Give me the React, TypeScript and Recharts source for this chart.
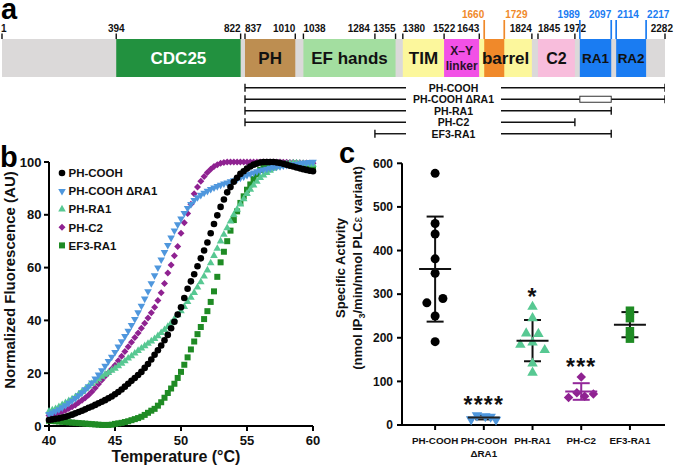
import React from "react";
import {
  Bar,
  ComposedChart,
  ErrorBar,
  ReferenceArea,
  Scatter,
  ScatterChart,
  XAxis,
  YAxis,
} from "recharts";

const FONT = '"Liberation Sans", Arial, Helvetica, sans-serif';
const INK = "#111";
const ORANGE = "#f0892a";
const BLUE = "#1a7cf2";

// ---------- panel a: PLCe domain map ----------
const DOMAIN_NAMES = ["CDC25", "PH", "EF hands", "TIM", "X–Y\nlinker", "barrel", "", "C2", "RA1", "RA2"];
const DOMAIN_START = [394, 837, 1038, 1380, 1522, 1643, 1660, 1845, 1989, 2114];
const DOMAIN_END = [822, 1010, 1355, 1522, 1643, 1824, 1729, 1972, 2097, 2217];
const DOMAIN_FILL = ["#22913f", "#bd8e51", "#a3dea0", "#fcf79c", "#f251e6", "#fcf79c", ORANGE, "#f8bddc", BLUE, BLUE];
const DOMAIN_TEXT = ["#fff", INK, INK, INK, "#2a102a", INK, INK, INK, INK, INK];
const DOMAIN_FONT = [17, 17, 17, 17, 12, 17, 17, 16, 13.5, 13.5];

const TICK_BLACK = [1, 394, 822, 837, 1010, 1038, 1284, 1355, 1380, 1522, 1643, 1824, 1845, 1972, 2282];
const TICK_ORANGE = [1660, 1729];
const TICK_BLUE = [1989, 2097, 2114, 2217];
const TICK_ANCHOR: Record<number, [string, number]> = {
  1: ["start", -1], 394: ["middle", 0], 822: ["end", 0], 837: ["start", 0], 1010: ["end", 0],
  1038: ["start", 0], 1284: ["end", -5], 1355: ["end", 0], 1380: ["start", 0], 1522: ["middle", 0],
  1643: ["end", 0], 1824: ["end", 0], 1845: ["start", 0], 1972: ["middle", 0], 2282: ["end", 8],
  1660: ["end", 0], 1729: ["start", 1], 1989: ["end", 0], 2097: ["end", 0], 2114: ["start", 1], 2217: ["start", 1],
};

const CONSTRUCT_NAMES = ["PH-COOH", "PH-COOH ΔRA1", "PH-RA1", "PH-C2", "EF3-RA1"];
const CONSTRUCT_START = [837, 837, 837, 837, 1284];
const CONSTRUCT_END = [2282, 2282, 2097, 1972, 2097];
const CONSTRUCT_DELETION: (number[] | null)[] = [null, [1989, 2097], null, null, null];

// ---------- panel b: thermal melts (40-60 °C, 0.25 °C steps) ----------
const TEMP_START = 40;
const TEMP_STEP = 0.25;
const PH_COOH_MELT = [
  2.3, 2.5, 2.7, 2.9, 3.2, 3.5, 3.9, 4.3, 4.8, 5.3, 5.8, 6.3, 6.9, 7.4, 8.0, 8.6,
  9.2, 9.8, 10.5, 11.2, 12.0, 12.9, 13.8, 14.9, 16.0, 17.1, 18.2, 19.3, 20.5, 22.0, 23.5, 25.2,
  27.0, 28.7, 30.5, 32.5, 34.5, 37.0, 39.5, 42.2, 45.0, 48.5, 52.0, 54.8, 57.5, 60.5, 63.5, 66.5,
  69.5, 73.0, 76.5, 79.8, 83.0, 85.8, 88.5, 90.5, 92.5, 94.0, 95.5, 96.5, 97.5, 98.3, 99.0, 99.4,
  99.8, 100, 100, 100, 100, 99.8, 99.6, 99.3, 99.0, 98.6, 98.3, 97.9, 97.6, 97.3, 97.0, 96.7, 96.5,
];
const DRA1_MELT = [
  4.5, 5.0, 5.6, 6.3, 7.0, 7.8, 8.7, 9.6, 10.5, 11.6, 12.7, 13.8, 15.0, 16.4, 17.9, 19.4,
  21.0, 22.7, 24.5, 26.2, 28.0, 30.0, 32.0, 34.0, 36.0, 38.2, 40.5, 43.0, 45.5, 48.2, 51.0, 54.0,
  57.0, 60.0, 63.0, 65.8, 68.5, 71.3, 74.0, 76.3, 78.5, 80.6, 82.5, 84.0, 85.5, 86.6, 87.5, 88.3,
  89.0, 89.7, 90.3, 90.8, 91.3, 91.8, 92.2, 92.6, 93.0, 93.5, 94.0, 94.5, 95.0, 95.5, 95.9, 96.4,
  96.8, 97.1, 97.4, 97.7, 98.0, 98.2, 98.4, 98.6, 98.8, 98.9, 99.1, 99.2, 99.4, 99.6, 99.7, 99.9, 100,
];
const PH_RA1_MELT = [
  5.5, 6.0, 6.5, 7.2, 8.0, 8.7, 9.5, 10.2, 11.0, 12.0, 13.0, 14.0, 15.0, 16.0, 16.9, 17.8,
  18.7, 19.5, 20.2, 21.0, 21.8, 22.7, 23.7, 24.6, 25.6, 26.5, 27.5, 28.5, 29.4, 30.3, 31.2, 32.1,
  33.0, 34.1, 35.3, 36.4, 37.6, 39.0, 40.5, 42.0, 43.5, 45.2, 47.0, 48.7, 50.5, 52.5, 54.5, 56.7,
  59.0, 61.7, 64.5, 67.2, 70.0, 72.5, 75.0, 77.5, 80.0, 82.0, 84.0, 86.0, 88.0, 89.6, 91.2, 92.6,
  94.0, 95.0, 95.9, 96.8, 97.5, 98.1, 98.6, 99.0, 99.3, 99.5, 99.6, 99.6, 99.5, 99.4, 99.3, 99.2, 99.0,
];
const PH_C2_MELT = [
  4.0, 4.3, 4.7, 5.0, 5.4, 6.0, 6.6, 7.3, 8.0, 8.9, 9.8, 10.7, 11.7, 13.0, 14.4, 15.9,
  17.4, 18.8, 20.2, 21.6, 23.0, 24.7, 26.4, 28.2, 30.0, 31.7, 33.5, 35.2, 37.0, 38.9, 40.9, 42.9,
  45.0, 47.5, 50.5, 54.0, 58.0, 61.0, 64.5, 68.0, 73.0, 77.0, 80.5, 84.0, 88.0, 90.5, 92.7, 94.5,
  96.0, 97.3, 98.3, 99.0, 99.5, 99.8, 100, 100, 100, 100, 100, 100, 100, 100, 100, 100,
  100, 100, 100, 100, 100, 100, 100, 99.9, 99.9, 99.8, 99.8, 99.7, 99.7, 99.6, 99.6, 99.5, 99.5,
];
const EF3_RA1_MELT = [
  2.0, 1.9, 1.8, 1.7, 1.6, 1.5, 1.4, 1.3, 1.2, 1.1, 1.0, 0.9, 0.8, 0.7, 0.6, 0.5,
  0.4, 0.4, 0.4, 0.5, 0.8, 1.0, 1.2, 1.5, 1.8, 2.2, 2.6, 3.0, 3.5, 4.2, 5.0, 5.8,
  6.5, 7.7, 9.0, 10.7, 12.5, 14.2, 16.0, 18.2, 20.5, 23.2, 26.0, 29.0, 32.0, 34.8, 37.5, 40.5,
  43.5, 47.0, 51.0, 56.5, 62.0, 66.0, 70.0, 74.0, 78.0, 81.3, 84.5, 87.0, 89.5, 91.5, 93.5, 95.3,
  97.0, 98.0, 99.0, 99.5, 99.8, 99.8, 99.7, 99.6, 99.5, 99.3, 99.0, 98.8, 98.5, 98.3, 98.0, 97.8, 97.5,
];

const SERIES_NAMES = ["PH-COOH", "PH-COOH ΔRA1", "PH-RA1", "PH-C2", "EF3-RA1"];
const SERIES_COLORS = ["#000000", "#4f97dd", "#57c892", "#8f2291", "#1f8b24"];
const SERIES_MARKERS = ["circle", "triDown", "triUp", "diamond", "square"];
const MELTS = [PH_COOH_MELT, DRA1_MELT, PH_RA1_MELT, PH_C2_MELT, EF3_RA1_MELT];

// ---------- panel c: specific activity ----------
const GROUP_LABELS = ["PH-COOH", "PH-COOH\nΔRA1", "PH-RA1", "PH-C2", "EF3-RA1"];
const PH_COOH_ACT = [577, 462, 438, 381, 348, 280, 290, 250, 191];
const DRA1_ACT = [13, 22, 20, 19, 12];
const PH_RA1_ACT = [271, 245, 210, 209, 184, 189, 172, 141, 120];
const PH_C2_ACT = [110, 63, 74, 66, 71];
const EF3_RA1_ACT = [262, 245, 215, 198];
const JITTER = [
  [0, 0, 0, 0, 0, -0.17, 0.16, 0, 0],
  [-0.26, -0.14, 0.03, 0.14, 0.25],
  [0, 0, -0.13, 0.12, -0.25, 0, 0.25, 0, 0],
  [0, -0.26, -0.09, 0.07, 0.25],
  [0, 0, 0, 0],
];
const SIGNIFICANCE = ["", "****", "*", "***", ""];
const SUMMARY_COLORS = [INK, "#222", INK, "#93289a", INK];
const ACTIVITY = [PH_COOH_ACT, DRA1_ACT, PH_RA1_ACT, PH_C2_ACT, EF3_RA1_ACT];

const mean = (v: number[]) => v.reduce((a, b) => a + b, 0) / v.length;
const sd = (v: number[]) => {
  const m = mean(v);
  return Math.sqrt(v.reduce((a, b) => a + (b - m) * (b - m), 0) / (v.length - 1));
};

const Marker = ({ kind, cx, cy, s, fill }: any) => {
  if (cx == null || cy == null) return null;
  const h = s * 0.87;
  switch (kind) {
    case "circle":
      return <circle cx={cx} cy={cy} r={s / 2} fill={fill} />;
    case "square":
      return <rect x={cx - s / 2} y={cy - s / 2} width={s} height={s} fill={fill} />;
    case "diamond":
      return <polygon points={`${cx},${cy - s / 2} ${cx + s / 2},${cy} ${cx},${cy + s / 2} ${cx - s / 2},${cy}`} fill={fill} />;
    case "triUp":
      return <polygon points={`${cx},${cy - (h * 2) / 3} ${cx + s / 2},${cy + h / 3} ${cx - s / 2},${cy + h / 3}`} fill={fill} />;
    default:
      return <polygon points={`${cx},${cy + (h * 2) / 3} ${cx + s / 2},${cy - h / 3} ${cx - s / 2},${cy - h / 3}`} fill={fill} />;
  }
};

const bold = { fontFamily: FONT, fontWeight: "bold" as const };

// panel a helpers
const BAR_TOP = 39;

const DomainTick = (props: any) => {
  const { x, payload } = props;
  const v = payload.value as number;
  const color = TICK_ORANGE.includes(v) ? ORANGE : TICK_BLUE.includes(v) ? BLUE : INK;
  const high = color !== INK;
  const [anchor, dx] = TICK_ANCHOR[v] ?? ["middle", 0];
  return (
    <g>
      <line x1={x} x2={x} y1={high ? 20 : 33.5} y2={BAR_TOP} stroke={color} strokeWidth={high ? 1.7 : 1.4} />
      <text x={x + dx} y={high ? 17.5 : 32} textAnchor={anchor} fontSize={10} fill={color} {...bold}>
        {v}
      </text>
    </g>
  );
};

const DomainLabel = ({ viewBox, text, color, size }: any) => {
  if (!viewBox || !text) return null;
  const cx = viewBox.x + viewBox.width / 2;
  const cy = viewBox.y + viewBox.height / 2;
  const lines = String(text).split("\n");
  const lh = size * 1.2;
  return (
    <text x={cx} textAnchor="middle" fontSize={size} fill={color} {...bold}>
      {lines.map((l, i) => (
        <tspan key={i} x={cx} y={cy + size * 0.36 + (i - (lines.length - 1) / 2) * lh}>
          {l}
        </tspan>
      ))}
    </text>
  );
};

const GAP_L = 406;
const GAP_R = 501;

const ConstructShape = (props: any) => {
  const { x, y, width, height, payload } = props;
  const cy = y + height / 2;
  const x2 = x + width;
  const [s, e] = payload.range;
  const px = (v: number) => x + ((v - s) / (e - s)) * width;
  const del = payload.del as number[] | null;
  const mid = (GAP_L + GAP_R) / 2;
  return (
    <g>
      <line x1={x} x2={Math.min(GAP_L, x2)} y1={cy} y2={cy} stroke={INK} strokeWidth={1.4} />
      <line x1={Math.max(GAP_R, x)} x2={x2} y1={cy} y2={cy} stroke={INK} strokeWidth={1.4} />
      <line x1={x} x2={x} y1={cy - 4} y2={cy + 4} stroke={INK} strokeWidth={1.4} />
      <line x1={x2} x2={x2} y1={cy - 4} y2={cy + 4} stroke={INK} strokeWidth={1.4} />
      {del && (
        <rect x={px(del[0])} y={cy - 3} width={px(del[1]) - px(del[0])} height={6} fill="#fff" stroke="#333" strokeWidth={1} />
      )}
      <text x={mid} y={cy + 3.8} textAnchor="middle" fontSize={10.5} fill={INK} {...bold}>
        {payload.name}
      </text>
    </g>
  );
};

const PanelA = () => {
  const domainData = DOMAIN_START.map((s, i) => ({ s, e: DOMAIN_END[i] }));
  const constructData = CONSTRUCT_NAMES.map((name, i) => ({
    name,
    range: [CONSTRUCT_START[i], CONSTRUCT_END[i]],
    del: CONSTRUCT_DELETION[i],
  }));
  return (
    <>
      <div style={{ position: "absolute", left: 0, top: 0 }}>
        <ComposedChart width={674} height={80} data={domainData} margin={{ top: 9, right: 9, left: 2, bottom: 3 }}>
          <XAxis
            type="number"
            dataKey="s"
            domain={[1, 2282]}
            allowDataOverflow
            orientation="top"
            height={30}
            ticks={[...TICK_BLACK, ...TICK_ORANGE, ...TICK_BLUE]}
            interval={0}
            axisLine={false}
            tickLine={false}
            tick={(p: any) => <DomainTick {...p} />}
          />
          <YAxis type="number" domain={[0, 1]} hide allowDataOverflow />
          <ReferenceArea x1={1} x2={2282} y1={0} y2={1} fill="#dbd9d9" fillOpacity={1} stroke="none" />
          {DOMAIN_START.map((s, i) => (
            <ReferenceArea key={`f${i}`} x1={s} x2={DOMAIN_END[i]} y1={0} y2={1} fill={DOMAIN_FILL[i]} fillOpacity={1} stroke="none" />
          ))}
          {DOMAIN_START.map((s, i) => (
            <ReferenceArea
              key={`l${i}`}
              x1={s}
              x2={DOMAIN_END[i]}
              y1={0}
              y2={1}
              fill="none"
              fillOpacity={0}
              stroke="none"
              label={<DomainLabel text={DOMAIN_NAMES[i]} color={DOMAIN_TEXT[i]} size={DOMAIN_FONT[i]} />}
            />
          ))}
        </ComposedChart>
      </div>
      <div style={{ position: "absolute", left: 0, top: 80 }}>
        <ComposedChart
          layout="vertical"
          width={674}
          height={62}
          data={constructData}
          margin={{ top: 1.75, right: 9, left: 2, bottom: 2.75 }}
          barCategoryGap={0}
        >
          <XAxis type="number" domain={[1, 2282]} allowDataOverflow hide />
          <YAxis type="category" dataKey="name" hide />
          <Bar dataKey="range" barSize={8} shape={ConstructShape} isAnimationActive={false} />
        </ComposedChart>
      </div>
    </>
  );
};

// panel b
const TEMPS = PH_COOH_MELT.map((_, i) => TEMP_START + i * TEMP_STEP);
const B_SIZES = [6.6, 7.6, 7.6, 7, 6];

const TempTitle = () => (
  <text x={176} y={322} textAnchor="middle" fontSize={16} fill={INK} {...bold}>
    Temperature (°C)
  </text>
);
const FluorTitle = () => (
  <text transform="translate(14.5,140) rotate(-90)" textAnchor="middle" fontSize={15} fill={INK} {...bold}>
    Normalized Fluorescence (AU)
  </text>
);

const PanelB = () => (
  <div style={{ position: "absolute", left: 0, top: 140 }}>
    <ScatterChart width={330} height={327} margin={{ top: 22, right: 17, left: 0, bottom: 0 }}>
      <XAxis
        type="number"
        dataKey="t"
        domain={[40, 60]}
        ticks={[40, 45, 50, 55, 60]}
        height={41}
        axisLine={{ stroke: "#000", strokeWidth: 2 }}
        tickLine={{ stroke: "#000", strokeWidth: 2 }}
        tickSize={5}
        tickMargin={5}
        tick={{ fill: INK, fontSize: 13, ...bold }}
        label={<TempTitle />}
      />
      <YAxis
        type="number"
        dataKey="v"
        domain={[0, 100]}
        ticks={[0, 20, 40, 60, 80, 100]}
        width={49}
        axisLine={{ stroke: "#000", strokeWidth: 2 }}
        tickLine={{ stroke: "#000", strokeWidth: 2 }}
        tickSize={5}
        tickMargin={2.5}
        tick={{ fill: INK, fontSize: 13, ...bold }}
        label={<FluorTitle />}
      />
      {[4, 3, 2, 1, 0].map((k) => (
        <Scatter
          key={SERIES_NAMES[k]}
          name={SERIES_NAMES[k]}
          data={MELTS[k].map((v, i) => ({ t: TEMPS[i], v }))}
          isAnimationActive={false}
          shape={(p: any) => <Marker kind={SERIES_MARKERS[k]} cx={p.cx} cy={p.cy} s={B_SIZES[k]} fill={SERIES_COLORS[k]} />}
        />
      ))}
    </ScatterChart>
  </div>
);

// panel c
const C_SIZES = [9, 10.5, 10.5, 9.5, 8.5];

const GroupTick = ({ x, y, payload }: any) => {
  const lines = GROUP_LABELS[payload.value].split("\n");
  return (
    <text x={x} y={y} textAnchor="middle" fontSize={9.8} fill={INK} {...bold}>
      {lines.map((l, i) => (
        <tspan key={i} x={x} dy={i === 0 ? 7.3 : 12.5}>
          {l}
        </tspan>
      ))}
    </text>
  );
};

const ActivityTitle = () => (
  <g>
    <text transform="translate(15,128) rotate(-90)" textAnchor="middle" fontSize={13} fill={INK} {...bold}>
      Specific Activity
    </text>
    <text transform="translate(32,128) rotate(-90)" textAnchor="middle" fontSize={13} fill={INK} {...bold}>
      <tspan>(nmol IP</tspan>
      <tspan fontSize={9} dy={3}>3</tspan>
      <tspan dy={-3}>/min/nmol PLC</tspan>
      <tspan fontWeight="normal">ε</tspan>
      <tspan> variant)</tspan>
    </text>
  </g>
);

const PanelC = () => {
  const summary = ACTIVITY.map((vals, g) => ({ x: g, y: mean(vals), err: sd(vals) }));
  const sig = SIGNIFICANCE.map((s, g) => ({ x: g, y: Math.max(...ACTIVITY[g]), s })).filter((d) => d.s);
  return (
    <div style={{ position: "absolute", left: 330, top: 140 }}>
      <ScatterChart width={344} height={327} margin={{ top: 23.3, right: 9, left: 0, bottom: 0 }}>
        <XAxis
          type="number"
          dataKey="x"
          domain={[-0.68, 4.72]}
          allowDataOverflow
          ticks={[0, 1, 2, 3, 4]}
          interval={0}
          height={42}
          axisLine={{ stroke: "#000", strokeWidth: 2 }}
          tickLine={{ stroke: "#000", strokeWidth: 2 }}
          tickSize={5}
          tickMargin={7}
          tick={(p: any) => <GroupTick {...p} />}
        />
        <YAxis
          type="number"
          dataKey="y"
          domain={[0, 600]}
          ticks={[0, 100, 200, 300, 400, 500, 600]}
          width={72}
          axisLine={{ stroke: "#000", strokeWidth: 2 }}
          tickLine={{ stroke: "#000", strokeWidth: 2 }}
          tickSize={5}
          tickMargin={4}
          tick={{ fill: INK, fontSize: 12, ...bold }}
          label={<ActivityTitle />}
        />
        {ACTIVITY.map((vals, g) => (
          <Scatter
            key={`pts${g}`}
            data={vals.map((y, i) => ({ x: g + JITTER[g][i], y }))}
            isAnimationActive={false}
            shape={(p: any) => <Marker kind={SERIES_MARKERS[g]} cx={p.cx} cy={p.cy} s={C_SIZES[g]} fill={SERIES_COLORS[g]} />}
          />
        ))}
        {summary.map((d, g) => (
          <Scatter
            key={`sum${g}`}
            data={[d]}
            isAnimationActive={false}
            shape={(p: any) => (
              <line x1={p.cx - 16} x2={p.cx + 16} y1={p.cy} y2={p.cy} stroke={SUMMARY_COLORS[g]} strokeWidth={2} />
            )}
          >
            <ErrorBar dataKey="err" direction="y" width={8.5} strokeWidth={2} stroke={SUMMARY_COLORS[g]} />
          </Scatter>
        ))}
        <Scatter
          data={sig}
          isAnimationActive={false}
          shape={(p: any) => (
            <text x={p.cx} y={p.cy - 2} textAnchor="middle" fontSize={23} letterSpacing={1.2} fill={INK} {...bold}>
              {p.payload.s}
            </text>
          )}
        />
      </ScatterChart>
    </div>
  );
};

const Overlay = () => (
  <svg width={674} height={467} style={{ position: "absolute", left: 0, top: 0, pointerEvents: "none" }}>
    <text x={1} y={19} fontSize={29} fill="#000" {...bold}>a</text>
    <text x={0} y={167} fontSize={29} fill="#000" {...bold}>b</text>
    <text x={339} y={163} fontSize={29} fill="#000" {...bold}>c</text>
    {SERIES_NAMES.map((n, k) => {
      const cy = 173 + k * 18.1;
      return (
        <g key={n}>
          <Marker kind={SERIES_MARKERS[k]} cx={62} cy={cy} s={B_SIZES[k]} fill={SERIES_COLORS[k]} />
          <text x={68.5} y={cy + 4.2} fontSize={11.5} fill={INK} {...bold}>
            {n}
          </text>
        </g>
      );
    })}
  </svg>
);

export default function App() {
  return (
    <div style={{ position: "absolute", left: 0, top: 0, width: 674, height: 467, background: "#fff", fontFamily: FONT }}>
      <PanelA />
      <PanelB />
      <PanelC />
      <Overlay />
    </div>
  );
}
